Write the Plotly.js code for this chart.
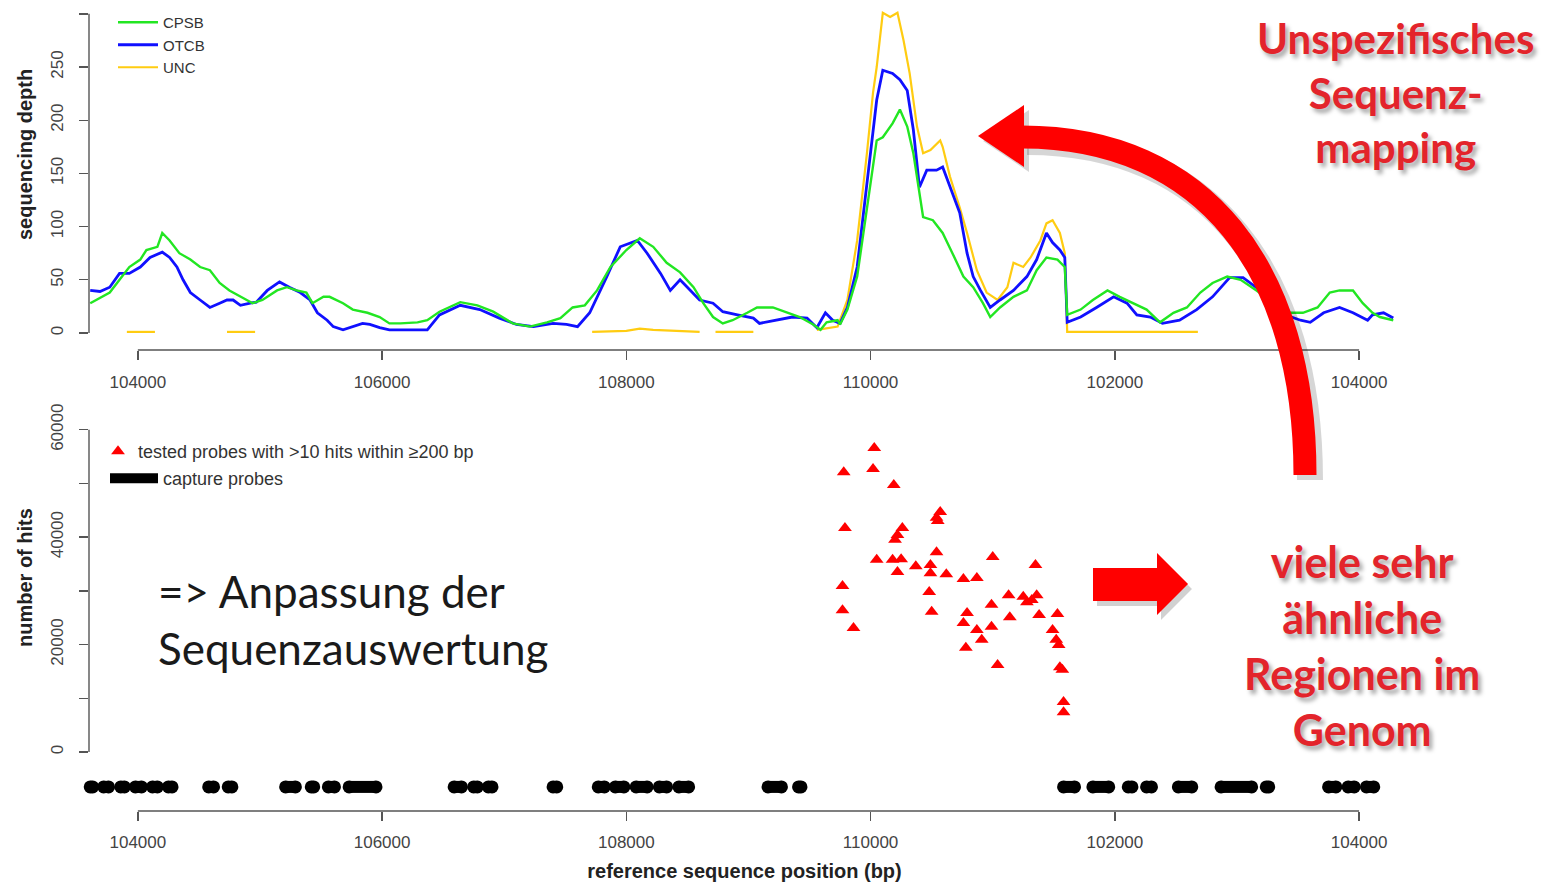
<!DOCTYPE html>
<html><head><meta charset="utf-8">
<script src="https://cdn.plot.ly/plotly-3.0.1.min.js"></script>
<style>html,body{margin:0;padding:0;background:#fff;}</style>
</head><body>
<div id="chart" style="width:1557px;height:882px"></div>
<script>
// ---------- tick labels / titles ----------
const posTickVals = [104000, 106000, 108000, 110000, 112000, 114000];
const posTickText = ["104000", "106000", "108000", "110000", "102000", "104000"];
const depthTickVals = [0, 50, 100, 150, 200, 250, 300];
const depthTickText = ["0", "50", "100", "150", "200", "250", ""];
const hitsTickVals = [0, 10000, 20000, 30000, 40000, 50000, 60000];
const hitsTickText = ["0", "", "20000", "", "40000", "", "60000"];
const depthTitle = "sequencing depth";
const hitsTitle = "number of hits";
const posTitle = "reference sequence position (bp)";

// ---------- sequencing depth ----------
const cpsbPos = [103610,103690,103770,103850,103930,104020,104070,104160,104200,104260,104340,104430,104510,104590,104670,104750,104840,104940,105020,105140,105220,105300,105380,105430,105520,105570,105680,105760,105880,105980,106060,106150,106290,106370,106470,106640,106780,106910,107070,107210,107350,107460,107560,107660,107760,107870,108000,108110,108220,108330,108440,108550,108630,108710,108790,108870,108990,109070,109200,109320,109420,109530,109590,109640,109730,109750,109810,109890,109970,110050,110100,110180,110240,110300,110350,110400,110430,110510,110590,110670,110760,110840,110920,110980,111060,111170,111280,111360,111440,111530,111590,111610,111720,111820,111940,112040,112150,112260,112370,112480,112590,112700,112800,112920,113030,113160,113300,113410,113540,113660,113760,113840,113950,114030,114110,114170,114280];
const cpsbDepth = [28,33,38,50,62,69,78,81,94,87,75,69,62,59,47,40,34,28,31,40,43,40,38,28,34,34,28,22,19,15,9,9,10,12,20,29,26,20,9,6,10,14,24,26,40,62,78,89,81,66,57,43,28,15,9,12,19,24,24,19,15,8,3,10,12,8,22,53,118,181,184,197,210,194,169,134,109,106,94,75,53,43,28,15,24,34,40,59,71,69,62,17,22,31,40,34,28,22,10,19,24,38,47,53,50,40,28,19,19,24,38,40,40,28,19,15,12];

const otcbPos = [103610,103690,103770,103850,103930,104020,104100,104200,104260,104320,104370,104430,104510,104590,104670,104730,104780,104840,104920,104970,105060,105160,105240,105330,105410,105470,105550,105600,105680,105760,105840,105900,105980,106060,106150,106370,106470,106640,106800,106960,107100,107240,107400,107510,107600,107700,107840,107950,108090,108170,108280,108360,108440,108520,108600,108710,108790,108910,109040,109090,109230,109360,109480,109560,109630,109690,109750,109810,109890,109970,110050,110100,110180,110240,110300,110350,110400,110460,110540,110590,110650,110730,110790,110840,110900,110980,111060,111170,111280,111360,111440,111490,111550,111590,111610,111720,111850,111990,112100,112180,112290,112390,112530,112670,112800,112940,113050,113190,113250,113350,113520,113600,113710,113840,113950,114070,114110,114200,114280];
const otcbDepth = [40,39,43,56,56,62,71,76,71,62,50,38,31,24,28,31,31,26,28,29,40,48,43,38,31,19,12,6,3,6,9,8,5,3,3,3,17,26,22,14,8,6,9,8,6,19,53,81,87,75,56,40,50,40,31,28,20,17,14,9,12,15,14,5,19,12,9,24,62,141,219,247,244,238,228,191,137,153,153,156,137,113,75,53,40,24,31,40,53,69,94,85,78,71,10,15,24,34,28,17,15,9,12,22,34,52,52,40,28,19,12,10,19,24,19,12,17,19,14];

const uncPos = [103910,104140,null,104730,104960,null,107720,108000,108110,108220,108600,null,108730,109040,null,109560,109730,109810,109890,109970,110020,110050,110100,110160,110220,110270,110320,110380,110430,110490,110570,110590,110650,110730,110790,110870,110950,111040,111120,111170,111250,111310,111390,111440,111490,111550,111590,111610,112680];
const uncDepth = [1,1,null,1,1,null,1,2,4,3,1,null,1,1,null,3,6,31,87,169,226,250,301,297,301,275,244,194,169,172,181,175,147,118,94,59,38,31,43,66,62,71,87,103,106,94,75,1,1];

// ---------- number of hits ----------
const hitPos = [110030,109780,110020,110190,109790,110570,110540,110550,110260,110220,110200,110050,110180,110250,110220,110370,110490,110490,110540,110620,110760,110870,111000,111350,110480,109770,109770,109860,110500,110790,110760,110990,111130,111250,111280,111360,111320,111140,111380,111530,110990,110870,110910,110780,111490,111520,111540,111550,111570,111040,111580,111580];
const hitCount = [56600,52100,52700,49700,41700,44700,43600,43000,41700,40400,39500,35800,35800,35900,33500,34600,34800,33300,37200,33100,32200,32400,36300,34800,29800,30900,26400,23100,26100,25900,24000,27400,29200,28900,27900,29200,28300,25100,25500,25700,23300,22700,20900,19400,22700,20900,19900,15800,15300,16200,9300,7400];

// ---------- capture probes ----------
const probeStart = [103610,103720,103860,103980,104120,104250,104580,104740,105210,105420,105560,105730,106590,106750,106870,107400,107770,107910,108080,108270,108430,109160,109410,111580,111820,112110,112260,112520,112870,113240,113750,113910,114060];
const probeEnd   = [103630,103760,103890,104030,104160,104280,104620,104770,105290,105440,105610,105950,106650,106780,106900,107430,107820,107980,108170,108330,108510,109270,109430,111670,111950,112140,112300,112630,113120,113260,113810,113960,114120];
const probeLevel = -6500;

// ---------- build traces ----------
const probeX = [], probeY = [], capX = [], capY = [];
probeStart.forEach((s, i) => {
  probeX.push(s, probeEnd[i], null); probeY.push(probeLevel, probeLevel, null);
  capX.push(s, probeEnd[i]); capY.push(probeLevel, probeLevel);
});

const traces = [
  {x: uncPos, y: uncDepth, xaxis: 'x', yaxis: 'y', type: 'scatter', mode: 'lines', name: 'UNC',
   line: {color: '#ffcc11', width: 2.2}, legend: 'legend', connectgaps: false},
  {x: otcbPos, y: otcbDepth, xaxis: 'x', yaxis: 'y', type: 'scatter', mode: 'lines', name: 'OTCB',
   line: {color: '#1010ff', width: 2.8}, legend: 'legend'},
  {x: cpsbPos, y: cpsbDepth, xaxis: 'x', yaxis: 'y', type: 'scatter', mode: 'lines', name: 'CPSB',
   line: {color: '#22e622', width: 2.4}, legend: 'legend'},
  {x: hitPos, y: hitCount, xaxis: 'x2', yaxis: 'y2', type: 'scatter', mode: 'markers',
   name: 'tested probes with >10 hits within ≥200 bp',
   marker: {symbol: 'triangle-up', size: 12, color: '#ff0000'}, legend: 'legend2'},
  {x: probeX, y: probeY, xaxis: 'x2', yaxis: 'y2', type: 'scatter', mode: 'lines', name: 'capture probes',
   line: {color: '#000000', width: 12}, legend: 'legend3', connectgaps: false},
  {x: capX, y: capY, xaxis: 'x2', yaxis: 'y2', type: 'scatter', mode: 'markers', showlegend: false,
   cliponaxis: false, marker: {symbol: 'circle', size: 13, color: '#000000'}}
];

// ---------- decorations (pixel helper for paper coords) ----------
const W = 1557, H = 882;
const P = (px, py) => (px / W).toFixed(5) + ',' + (1 - py / H).toFixed(5);
function pathOf(cmds) { return cmds.map(c => c[0] + ' ' + c.slice(1).map(p => P(p[0], p[1])).join(' ')).join(' '); }

const curvePx = [['M', [1022, 137]], ['C', [1205, 137], [1305, 270], [1305, 475]]];
const curveShadowPx = [['M', [1027, 142]], ['C', [1210, 142], [1310, 275], [1310, 480]]];
const headPx = [['M', [978, 136]], ['L', [1024, 105]], ['L', [1024, 167]], ['Z']];
const headShadowPx = [['M', [983, 141]], ['L', [1029, 110]], ['L', [1029, 172]], ['Z']];
const blockPx = [['M', [1093, 568]], ['L', [1157, 568]], ['L', [1157, 553]], ['L', [1188, 584]], ['L', [1157, 615]], ['L', [1157, 601]], ['L', [1093, 601]], ['Z']];
const blockShadowPx = blockPx.map(c => c.length > 1 ? [c[0], [c[1][0] + 4, c[1][1] + 5]] : c);

const axisColor = '#555';
const shapes = [
  {type: 'line', xref: 'x domain', yref: 'y', x0: 0, x1: 0, y0: 0, y1: 300, line: {color: axisColor, width: 1.4}},
  {type: 'line', xref: 'x', yref: 'y domain', x0: 104000, x1: 114000, y0: 0, y1: 0, line: {color: axisColor, width: 1.4}},
  {type: 'line', xref: 'x2 domain', yref: 'y2', x0: 0, x1: 0, y0: 0, y1: 60000, line: {color: axisColor, width: 1.4}},
  {type: 'line', xref: 'x2', yref: 'y2 domain', x0: 104000, x1: 114000, y0: 0, y1: 0, line: {color: axisColor, width: 1.4}},
  {type: 'path', xref: 'paper', yref: 'paper', path: pathOf(curveShadowPx), line: {color: 'rgba(0,0,0,0.16)', width: 26}, layer: 'above'},
  {type: 'path', xref: 'paper', yref: 'paper', path: pathOf(headShadowPx), fillcolor: 'rgba(0,0,0,0.16)', line: {width: 0}, layer: 'above'},
  {type: 'path', xref: 'paper', yref: 'paper', path: pathOf(curvePx), line: {color: '#ff0000', width: 23}, layer: 'above'},
  {type: 'path', xref: 'paper', yref: 'paper', path: pathOf(headPx), fillcolor: '#ff0000', line: {width: 0}, layer: 'above'},
  {type: 'path', xref: 'paper', yref: 'paper', path: pathOf(blockShadowPx), fillcolor: 'rgba(0,0,0,0.18)', line: {width: 0}, layer: 'above'},
  {type: 'path', xref: 'paper', yref: 'paper', path: pathOf(blockPx), fillcolor: '#ff0000', line: {width: 0}, layer: 'above'}
];

const redFont = {family: 'Lato, "Open Sans", sans-serif', size: 42, color: '#e3242b', weight: 700,
                 shadow: '3px 4px 4px rgba(0,0,0,0.35)'};
const titleFont = {family: '"Liberation Sans", Arial, sans-serif', size: 20, color: '#222', weight: 700};
const annotations = [
  {xref: 'paper', yref: 'paper', x: 1395 / W, y: 1 - 92 / H, xanchor: 'center', yanchor: 'middle',
   text: 'Unspezifisches<br>Sequenz-<br>mapping', showarrow: false, align: 'center', font: redFont},
  {xref: 'paper', yref: 'paper', x: 1362 / W, y: 1 - 645 / H, xanchor: 'center', yanchor: 'middle',
   text: 'viele sehr<br>ähnliche<br>Regionen im<br>Genom', showarrow: false, align: 'center',
   font: Object.assign({}, redFont, {size: 43})},
  {xref: 'paper', yref: 'paper', x: 156 / W, y: 1 - 619 / H, xanchor: 'left', yanchor: 'middle',
   text: '=&gt; Anpassung der<br>Sequenzauswertung', showarrow: false, align: 'left',
   font: {family: 'Lato, "Open Sans", sans-serif', size: 44, color: '#1a1a1a'}},
  {xref: 'paper', yref: 'paper', x: 25 / W, y: 1 - 155 / H, xanchor: 'center', yanchor: 'middle',
   text: depthTitle, textangle: -90, showarrow: false, font: titleFont},
  {xref: 'paper', yref: 'paper', x: 25 / W, y: 1 - 578 / H, xanchor: 'center', yanchor: 'middle',
   text: hitsTitle, textangle: -90, showarrow: false, font: titleFont}
];

const tickFont = {family: '"Liberation Sans", Arial, sans-serif', size: 17, color: '#444'};
const xDomain = [89 / W, 1400 / W];
const xRange = [103600, 114335];

const layout = {
  width: W, height: H,
  margin: {l: 0, r: 0, t: 0, b: 0},
  paper_bgcolor: '#fff', plot_bgcolor: 'rgba(0,0,0,0)',
  font: {family: '"Liberation Sans", Arial, sans-serif', color: '#333'},
  showlegend: true,
  hovermode: false,
  xaxis: {domain: xDomain, range: xRange, anchor: 'y', showgrid: false, zeroline: false, showline: false,
          tickmode: 'array', tickvals: posTickVals, ticktext: posTickText, ticks: 'outside', ticklen: 9,
          tickcolor: axisColor, tickwidth: 1.4, tickfont: tickFont, ticklabelstandoff: 8},
  yaxis: {domain: [1 - 350 / H, 1 - 5 / H], range: [-16, 308.3], anchor: 'x', showgrid: false, zeroline: false,
          showline: false, tickmode: 'array', tickvals: depthTickVals, ticktext: depthTickText, ticks: 'outside',
          ticklen: 9, tickcolor: axisColor, tickwidth: 1.4, tickangle: -90, tickfont: tickFont, ticklabelstandoff: 9},
  xaxis2: {domain: xDomain, range: xRange, anchor: 'y2', showgrid: false, zeroline: false, showline: false,
           tickmode: 'array', tickvals: posTickVals, ticktext: posTickText, ticks: 'outside', ticklen: 9,
           tickcolor: axisColor, tickwidth: 1.4, tickfont: tickFont, ticklabelstandoff: 7,
           title: {text: posTitle, font: titleFont, standoff: 14}},
  yaxis2: {domain: [1 - 811 / H, 1 - 395 / H], range: [-10986, 66473], anchor: 'x2', showgrid: false, zeroline: false,
           showline: false, tickmode: 'array', tickvals: hitsTickVals, ticktext: hitsTickText, ticks: 'outside',
           ticklen: 9, tickcolor: axisColor, tickwidth: 1.4, tickangle: -90, tickfont: tickFont, ticklabelstandoff: 9},
  legend: {x: 113 / W, y: 1 - 6 / H, xanchor: 'left', yanchor: 'top', bgcolor: 'rgba(0,0,0,0)',
           traceorder: 'reversed', font: {size: 15, color: '#333'}, itemwidth: 40},
  legend2: {x: 98 / W, y: 1 - 433 / H, xanchor: 'left', yanchor: 'top', bgcolor: 'rgba(0,0,0,0)',
            font: {size: 18, color: '#333'}},
  legend3: {x: 105 / W, y: 1 - 460 / H, xanchor: 'left', yanchor: 'top', bgcolor: 'rgba(0,0,0,0)',
            font: {size: 18, color: '#333'}, itemwidth: 48},
  shapes: shapes,
  annotations: annotations
};

Plotly.newPlot('chart', traces, layout, {staticPlot: true, displayModeBar: false});
</script>
</body></html>
